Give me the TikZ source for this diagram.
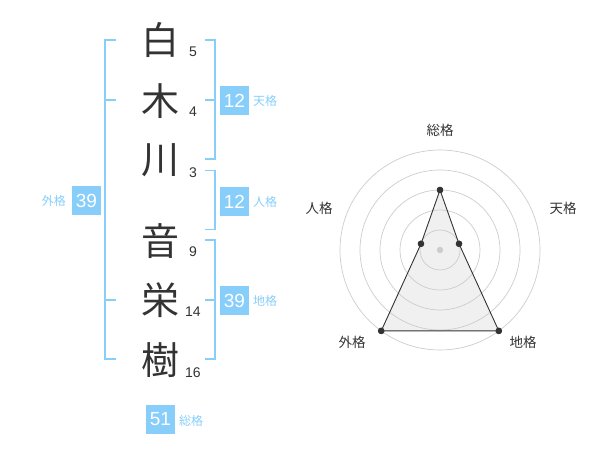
\documentclass[tikz,border=0pt]{standalone}
\usepackage{fontspec}
\setmainfont{Liberation Sans}
\newfontfamily\jp{Noto Sans CJK JP}
\definecolor{sky}{RGB}{135,206,250}
\definecolor{ink}{RGB}{51,51,51}
\definecolor{ring}{RGB}{204,204,204}
\begin{document}
\begin{tikzpicture}[x=1pt,y=-1pt,
  kanji/.style={font=\jp\fontsize{38}{38}\selectfont, text=ink, inner sep=0pt},
  strokes/.style={font=\fontsize{14}{14}\selectfont, text=ink, inner sep=0pt},
  numbox/.style={fill=sky, text=white, minimum width=29pt, minimum height=29pt, inner sep=0pt, font=\fontsize{19}{19}\selectfont},
  sublabel/.style={font=\jp\fontsize{12}{12}\selectfont, text=sky, inner sep=0pt},
  bracket/.style={draw=sky, line width=1.6pt},
  axislabel/.style={font=\jp\fontsize{13.5}{13.5}\selectfont, text=ink, inner sep=0pt},
  ringline/.style={draw=ring, line width=0.7pt},
  dot/.style={circle, fill=ink, inner sep=0pt, minimum size=6.5pt},
]
\useasboundingbox (0,0) rectangle (600,470);
% characters
\node[kanji] (k1) at (160,40) {白};
\node[kanji] (k2) at (160,101) {木};
\node[kanji] (k3) at (160,160) {川};
\node[kanji] (k4) at (160,241) {音};
\node[kanji] (k5) at (160,300) {栄};
\node[kanji] (k6) at (160,360) {樹};
% stroke counts
\node[strokes] (s1) at (193,52) {5};
\node[strokes] (s2) at (193,112) {4};
\node[strokes] (s3) at (193,172.5) {3};
\node[strokes] (s4) at (193,252) {9};
\node[strokes] (s5) at (193,312) {14};
\node[strokes] (s6) at (193,372.5) {16};
% outer bracket (left)
\coordinate (la) at (116,40);
\coordinate (lb) at (116,100);
\coordinate (lc) at (116,300);
\coordinate (ld) at (116,359);
\draw[bracket] (la) -| (105,359) -- (ld);
\draw[bracket] (lb) -- (105,100);
\draw[bracket] (lc) -- (105,300);
% tenkaku bracket
\coordinate (ta) at (205,40);
\coordinate (tm) at (205,100);
\coordinate (tb) at (205,159);
\draw[bracket] (ta) -| (215,159) -- (tb);
\draw[bracket] (tm) -- (215,100);
% jinkaku bracket
\coordinate (ja) at (205,170.5);
\coordinate (jb) at (205,229.5);
\draw[bracket] (ja) -| (215,229.5) -- (jb);
% chikaku bracket
\coordinate (ca) at (205,240);
\coordinate (cm) at (205,300);
\coordinate (cb) at (205,359);
\draw[bracket] (ca) -| (215,359) -- (cb);
\draw[bracket] (cm) -- (215,300);
% boxes and labels
\node[numbox] (ten) at (234.5,100.5) {12};
\node[sublabel, anchor=west] (tenl) at (253,101) {天格};
\node[numbox] (jin) at (234.5,201.5) {12};
\node[sublabel, anchor=west] (jinl) at (253,202) {人格};
\node[numbox] (chi) at (234.5,300.5) {39};
\node[sublabel, anchor=west] (chil) at (253,301) {地格};
\node[numbox] (gai) at (86.5,200.5) {39};
\node[sublabel, anchor=east] (gail) at (66,201) {外格};
\node[numbox] (sou) at (160.5,419.5) {51};
\node[sublabel, anchor=west] (soul) at (179,421) {総格};
% radar
\coordinate (o) at (440,250);
\foreach \r in {20,40,60,80,100} \draw[ringline] (o) circle (\r pt);
\fill[ring] (o) circle (3.2pt);
\node[dot] (pS) at (440,190) {};
\node[dot] (pT) at (459,243.8) {};
\node[dot] (pC) at (498.8,330.9) {};
\node[dot] (pG) at (381.2,330.9) {};
\node[dot] (pJ) at (421,243.8) {};
\fill[black!20, opacity=0.3] (pS.center) -- (pT.center) -- (pC.center) -- (pG.center) -- (pJ.center) -- cycle;
\draw[ink, line width=0.9pt] (pS.center) -- (pT.center) -- (pC.center) -- (pG.center) -- (pJ.center) -- cycle;
\foreach \p in {pS,pT,pC,pG,pJ} \fill[ink] (\p) circle (3.2pt);
\node[axislabel] (aS) at (440,130) {総格};
\node[axislabel] (aT) at (563,208) {天格};
\node[axislabel] (aJ) at (319,208) {人格};
\node[axislabel] (aG) at (352,342) {外格};
\node[axislabel] (aC) at (523,342) {地格};
\end{tikzpicture}
\end{document}
